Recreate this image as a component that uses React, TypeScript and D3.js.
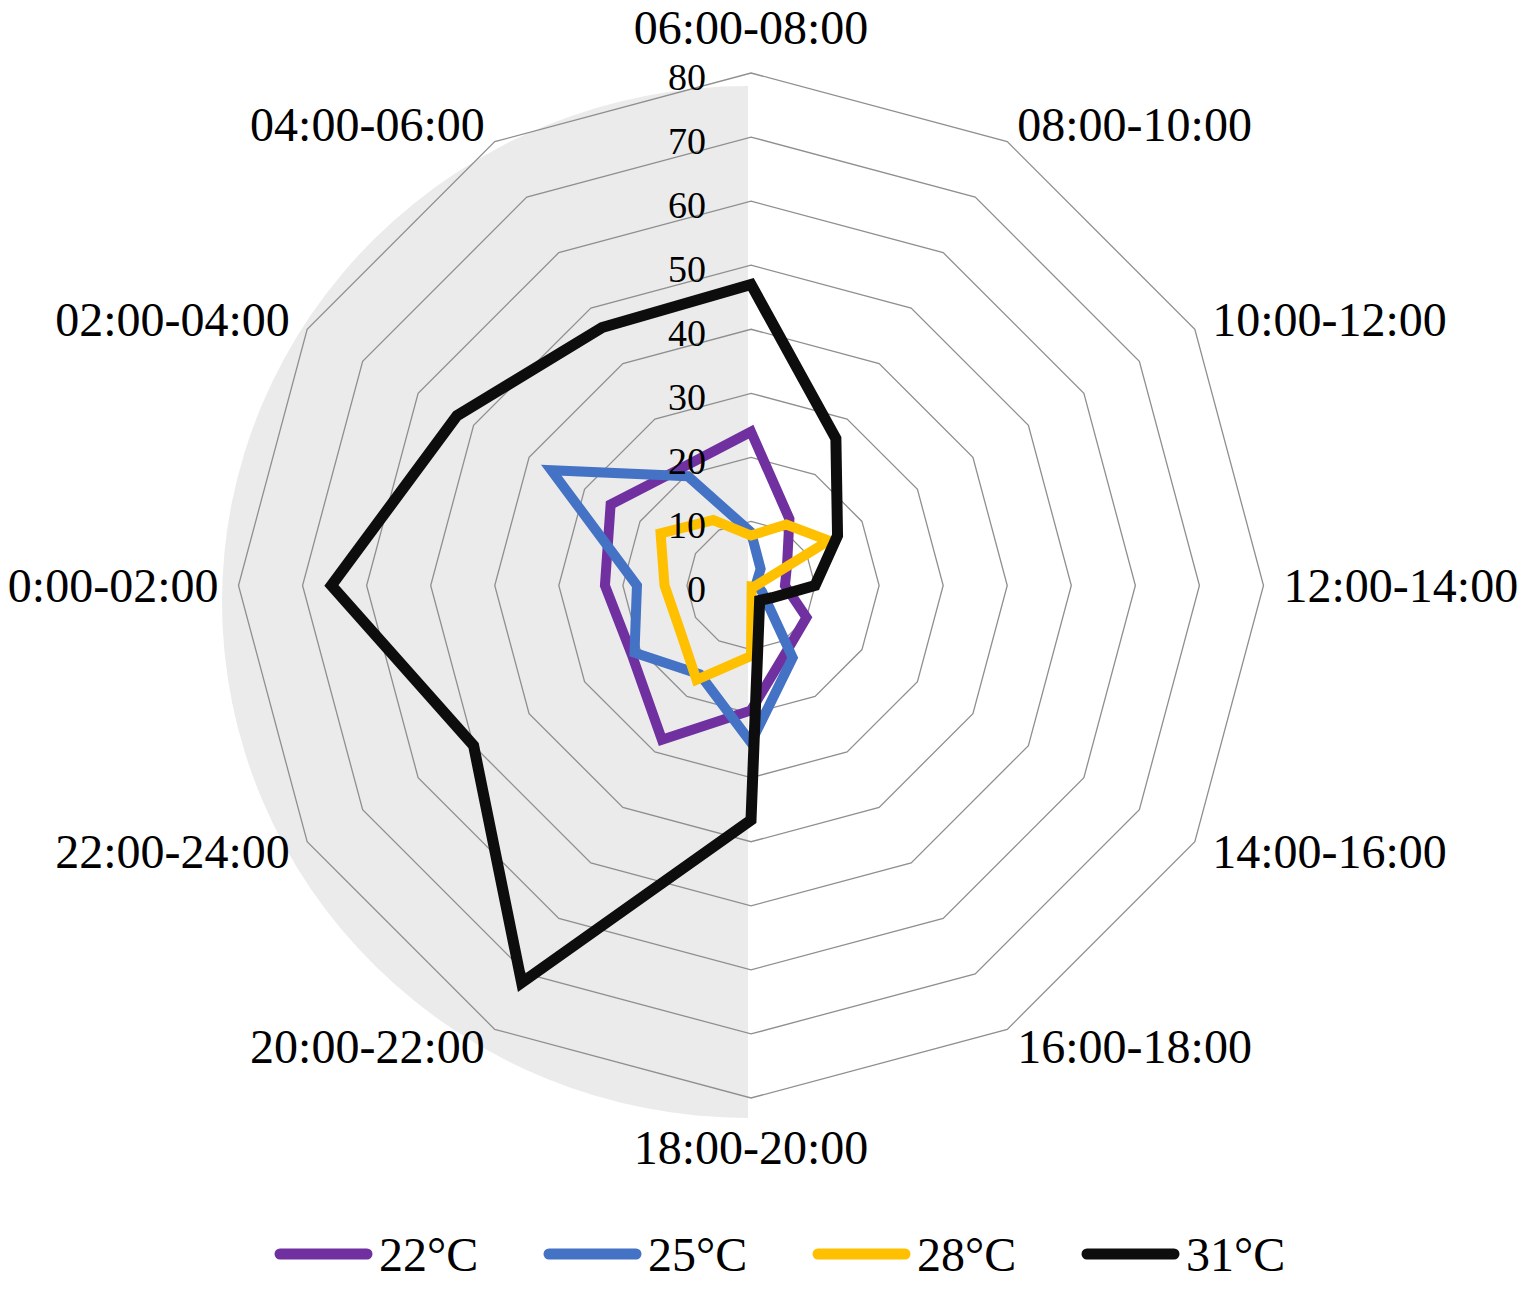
import * as d3 from 'd3';
import React from 'react';

// time slots, clockwise from the top
const categories = [
  '06:00-08:00',
  '08:00-10:00',
  '10:00-12:00',
  '12:00-14:00',
  '14:00-16:00',
  '16:00-18:00',
  '18:00-20:00',
  '20:00-22:00',
  '22:00-24:00',
  '0:00-02:00',
  '02:00-04:00',
  '04:00-06:00',
];

const ticks = [0, 10, 20, 30, 40, 50, 60, 70, 80];

const t22 = [24, 12, 6.5, 5.3, 10, 11.5, 19.5, 27.8, 21.5, 22.8, 25.3, 21.3];
const t25 = [8.3, 3, 1, 1, 2, 13, 24.5, 16, 21, 17.8, 36, 19.7];
const t28 = [7.8, 11, 14, 0.8, 0.4, 0.2, 11, 17, 13, 13.5, 16.3, 11.8];
const t31 = [47, 26.5, 15.6, 10, 3.8, 2.7, 36.6, 71.6, 50, 65.5, 53, 46.5];

const seriesNames = ['22°C', '25°C', '28°C', '31°C'];
const seriesData = [t22, t25, t28, t31];
const seriesColors = ['#7030A0', '#4472C4', '#FFC000', '#0d0d0d'];

const W = 1535;
const H = 1292;
const cx = 751;
const cy = 585.5;
const R = 512.5;
const font = "'Liberation Serif', 'Times New Roman', serif";

export default function App() {
  const r = d3.scaleLinear().domain([0, 80]).range([0, R]);
  const angle = (i: number) => (i * 2 * Math.PI) / categories.length;

  const radial = d3
    .lineRadial<number>()
    .angle((_d, i) => angle(i))
    .radius((d) => r(d))
    .curve(d3.curveLinearClosed);

  const ring = (v: number) => radial(categories.map(() => v)) as string;

  // grey half disc behind the left side
  const bgRx = 526;
  const bgRy = 516;
  const bgCx = 748;
  const bgCy = 602;
  const bgPath = `M${bgCx},${bgCy - bgRy} A${bgRx},${bgRy} 0 0 0 ${bgCx},${bgCy + bgRy} Z`;

  const labelR = R + 20;

  return (
    <svg
      width={W}
      height={H}
      style={{ position: 'absolute', left: 0, top: 0, display: 'block', background: '#fff' }}
    >
      <path d={bgPath} fill="#ebebeb" />
      <g transform={`translate(${cx},${cy})`}>
        {ticks.slice(1).map((t) => (
          <path key={t} d={ring(t)} fill="none" stroke="#8f8f8f" strokeWidth={1.3} />
        ))}
        {seriesData.map((s, k) => (
          <path
            key={k}
            d={radial(s) as string}
            fill="none"
            stroke={seriesColors[k]}
            strokeWidth={k === 3 ? 11 : 10}
            strokeLinejoin="miter"
            strokeMiterlimit={3}
          />
        ))}
        {ticks.map((t) => (
          <text
            key={t}
            x={-45}
            y={-r(t) + 3.5}
            textAnchor="end"
            dominantBaseline="central"
            fontFamily={font}
            fontSize={38}
            fill="#000"
          >
            {t}
          </text>
        ))}
        {categories.map((c, i) => {
          const a = angle(i);
          const sx = Math.sin(a);
          const sy = -Math.cos(a);
          let x = labelR * sx;
          let y = labelR * sy;
          let anchor = 'middle';
          if (sx > 0.01) anchor = 'start';
          else if (sx < -0.01) anchor = 'end';
          else y += sy < 0 ? -26 : 29;
          return (
            <text
              key={c}
              x={x}
              y={y}
              textAnchor={anchor}
              dominantBaseline="central"
              fontFamily={font}
              fontSize={48}
              fill="#000"
            >
              {c}
            </text>
          );
        })}
      </g>
      <g transform="translate(0,1254)">
        {seriesNames.map((n, k) => {
          const x0 = 275 + k * 269;
          return (
            <g key={n}>
              <line
                x1={x0 + 5}
                x2={x0 + 92}
                y1={0}
                y2={0}
                stroke={seriesColors[k]}
                strokeWidth={11}
                strokeLinecap="round"
              />
              <text
                x={x0 + 104}
                y={0}
                dominantBaseline="central"
                fontFamily={font}
                fontSize={48}
                fill="#000"
              >
                {n}
              </text>
            </g>
          );
        })}
      </g>
    </svg>
  );
}
